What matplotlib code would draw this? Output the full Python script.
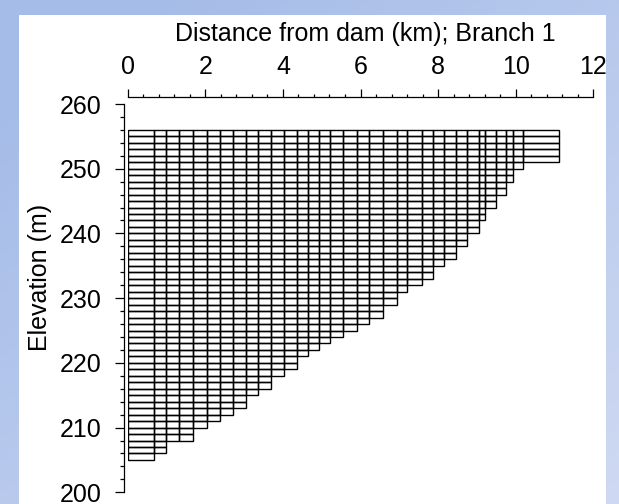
import numpy as np
import matplotlib
matplotlib.use("Agg")
import matplotlib.pyplot as plt
from matplotlib.patches import Rectangle
from matplotlib.ticker import MultipleLocator

plt.rcParams['font.family'] = ['Liberation Sans', 'DejaVu Sans']

# ---- data: segment boundaries (km from dam) and bottom elevation of each segment (m)
seg_edges = [0, 0.69, 0.99, 1.33, 1.69, 2.04, 2.38, 2.72, 3.05, 3.36, 3.69, 4.03,
             4.36, 4.65, 4.92, 5.22, 5.55, 5.90, 6.22, 6.58, 6.94, 7.21, 7.58,
             7.86, 8.16, 8.45, 8.75, 9.05, 9.21, 9.48, 9.76, 9.94, 10.19, 11.12]
seg_bottom = [205, 206, 208, 208, 210, 211, 212, 213, 215, 216, 218, 219, 221,
              222, 223, 224, 225, 226, 227, 229, 231, 232, 233, 235, 236, 238,
              240, 242, 244, 246, 248, 250, 251]
top_elev = 256
layer_h = 1
x_ticks = [0, 2, 4, 6, 8, 10, 12]
y_ticks = [200, 210, 220, 230, 240, 250, 260]
x_label = "Distance from dam (km); Branch 1"
y_label = "Elevation (m)"

W, H = 619, 504
fig = plt.figure(figsize=(W / 100, H / 100), dpi=100)

# background gradient + white panel
bg = fig.add_axes([0, 0, 1, 1], zorder=-10)
yy, xx = np.mgrid[0:1:200j, 0:1:200j]
t = np.clip(0.55 * (1 - xx) + 0.6 * (1 - yy), 0, 1)  # 1 at bottom-left
c_light = np.array([0.81, 0.85, 0.95])
c_dark = np.array([0.65, 0.74, 0.91])
img = c_light[None, None, :] * (1 - t[..., None]) + c_dark[None, None, :] * t[..., None]
bg.imshow(img, extent=[0, 1, 0, 1], aspect='auto', origin='upper')
bg.add_patch(Rectangle((19 / W, 0), (606 - 19) / W, (504 - 15) / H,
                       facecolor='white', edgecolor='none'))
bg.set_xlim(0, 1)
bg.set_ylim(0, 1)
bg.axis('off')

left = 127.7 / W
right = 593.3 / W
bottom = 1 - 492.3 / H
top = 1 - 104 / H
ax = fig.add_axes([left, bottom, right - left, top - bottom])
ax.patch.set_visible(False)

# cells
for i in range(len(seg_bottom)):
    x0 = seg_edges[i]
    w = seg_edges[i + 1] - seg_edges[i]
    n = int(round((top_elev - seg_bottom[i]) / layer_h))
    bottoms = [seg_bottom[i] + k * layer_h for k in range(n)]
    ax.bar([x0] * n, [layer_h] * n, width=w, bottom=bottoms, align='edge',
           fill=False, edgecolor='black', linewidth=1.0)

ax.set_xlim(0, 12)
ax.set_ylim(200, 260)

for s in ['right', 'bottom']:
    ax.spines[s].set_visible(False)
ax.spines['top'].set_position(('outward', 5.3))
ax.spines['left'].set_position(('outward', 2.5))
for s in ['top', 'left']:
    ax.spines[s].set_linewidth(0.9)

ax.xaxis.tick_top()
ax.xaxis.set_label_position('top')
ax.set_xticks(x_ticks)
ax.xaxis.set_minor_locator(MultipleLocator(0.4))
ax.set_yticks(y_ticks)
ax.yaxis.set_minor_locator(MultipleLocator(2))

ax.tick_params(axis='x', which='major', direction='out', length=5.5, width=0.9,
               labelsize=18, pad=7)
ax.tick_params(axis='x', which='minor', direction='out', length=2.5, width=0.9)
ax.tick_params(axis='y', which='major', direction='out', length=6.2, width=0.9,
               labelsize=18, pad=10)
ax.tick_params(axis='y', which='minor', direction='out', length=2.6, width=0.9)

ax.set_xlabel(x_label, fontsize=18)
ax.xaxis.set_label_coords((365 - 127.7) / (593.3 - 127.7), (492.3 - 34.5) / (492.3 - 104))
ax.xaxis.label.set_va('center')
ax.set_ylabel(y_label, fontsize=18)
ax.yaxis.set_label_coords((40 - 127.7) / (593.3 - 127.7), (492.3 - 277) / (492.3 - 104))
ax.yaxis.label.set_va('center')

fig.savefig("out.png", dpi=100)
